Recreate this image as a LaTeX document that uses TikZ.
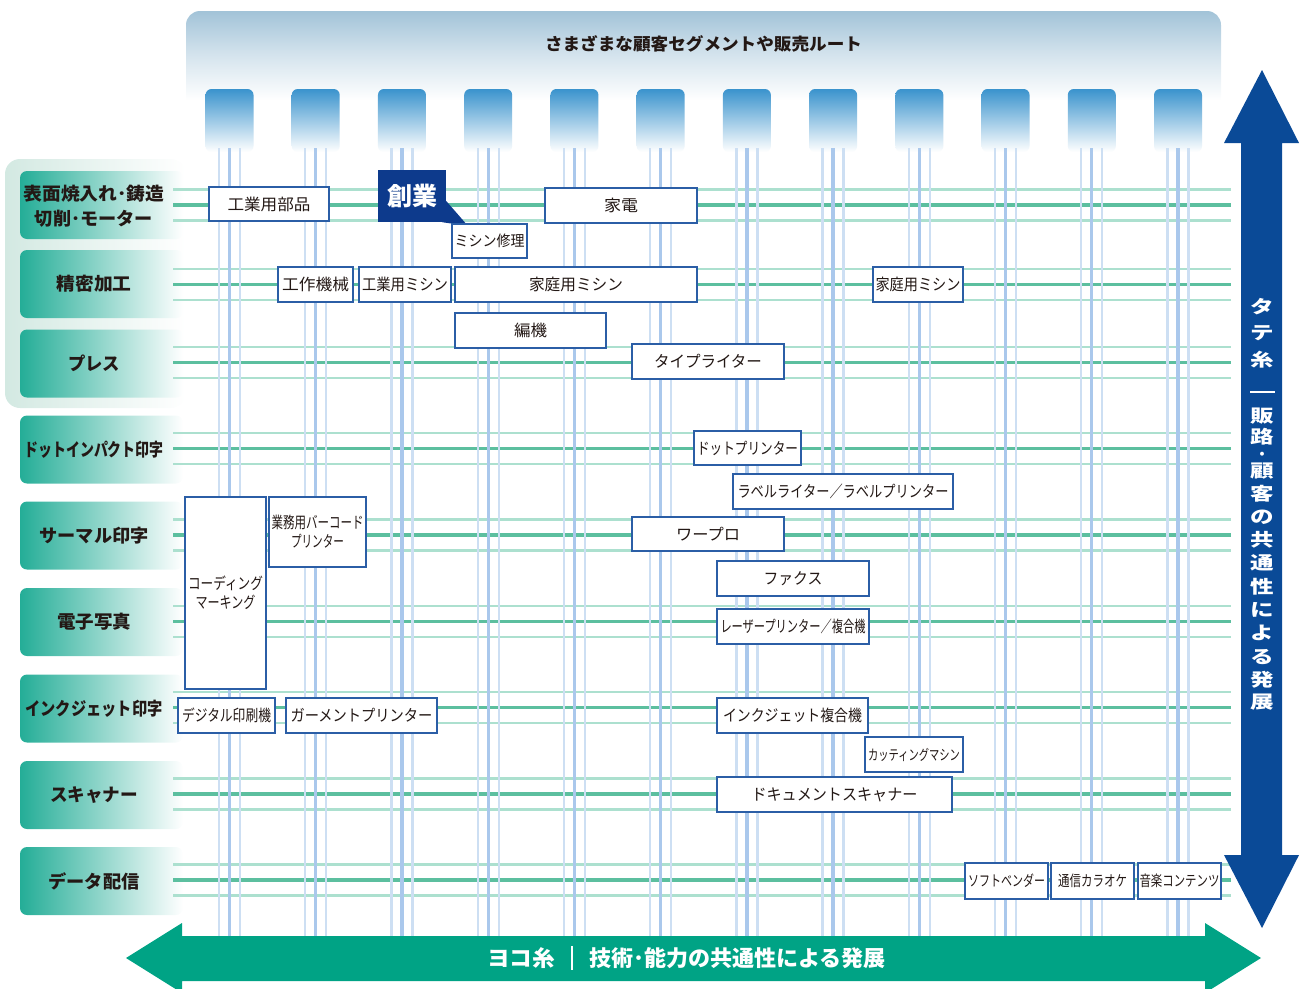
\documentclass[tikz,border=0pt]{standalone}
\usepackage{fontspec}
\setmainfont{Noto Sans CJK JP}
\usepackage{graphicx}
\definecolor{txt}{HTML}{231815}
\definecolor{boxblue}{HTML}{2B5EA6}
\definecolor{sogyoblue}{HTML}{0D3A8C}
\definecolor{arrowblue}{HTML}{0A4A97}
\definecolor{arrowgreen}{HTML}{00A385}
\definecolor{labteal}{HTML}{24AD97}
\definecolor{panelgreen}{HTML}{D3E9E2}
\definecolor{panelblue}{HTML}{A2C3D8}
\definecolor{tabblue}{HTML}{3A93CD}
\definecolor{hthick}{HTML}{5CBF9F}
\definecolor{hthin}{HTML}{ACE0CF}
\definecolor{vthick}{HTML}{AAC8EC}
\definecolor{vthin}{HTML}{CDDFF3}
\pgfdeclareverticalshading{panelshade}{100bp}{color(0bp)=(white); color(25bp)=(white); color(45bp)=(white); color(60bp)=(panelblue!45); color(75bp)=(panelblue); color(100bp)=(panelblue)}
\newlength\fitlen
\newcommand\fitto[2]{\settowidth\fitlen{#2}\pgfmathsetmacro\myfac{#1/\fitlen}\scalebox{\myfac}[1]{#2}}
\newcommand\ibox[6]{\node[ibox, minimum width={#4-#2}, minimum height={#5-#3}] (#1) at ({(#2+#4)/2},{(#3+#5)/2}) {#6};}
\tikzset{
  ibox/.style={draw=boxblue, line width=1.2pt, fill=white, inner sep=0pt, text=txt, align=center, font=\fontsize{16}{19}\selectfont},
  lblbox/.style={rounded corners=7pt, left color=labteal, right color=white, draw=none},
  lbltext/.style={text=txt, align=center, inner sep=0pt, font=\fontsize{18}{25}\selectfont\bfseries},
  tabbox/.style={rounded corners=6pt, top color=tabblue, bottom color=white, draw=none},
  hthickline/.style={draw=hthick, line width=3.3pt},
  hthinline/.style={draw=hthin, line width=2.3pt},
  vthickline/.style={draw=vthick, line width=3.3pt},
  vthinline/.style={draw=vthin, line width=2.3pt},
  vchar/.style={text=white, inner sep=0pt, font=\fontsize{21}{21}\selectfont\bfseries},
}
\begin{document}
\begin{tikzpicture}[x=1pt,y=-1pt]
\useasboundingbox (0,0) rectangle (1303,988);
% top panel
\shade[shading=panelshade, rounded corners=14pt] (186,11) rectangle (1221,160);
\node[text=txt, inner sep=0pt, font=\fontsize{17}{17}\selectfont\bfseries] (title) at (703.5,44) {\fitto{317}{さまざまな顧客セグメントや販売ルート}};
% tabs
\foreach \i in {0,...,11}{
  \pgfmathsetmacro\cx{229.5+86.23*\i}
  \shade[tabbox] ({\cx-24},89) rectangle ({\cx+24},152);
}
% left panel
\shade[rounded corners=15pt, left color=panelgreen, right color=white] (5,159) rectangle (186,408);
% label boxes
\foreach \yc in {205,284,363.5,449.5,535.5,622,708.5,795,881}{
  \shade[lblbox] (20,{\yc-34}) rectangle (183,{\yc+34});
}
\node[lbltext] (l1) at (94,206) {\fitto{141}{表面焼入れ･鋳造}\\\fitto{118}{切削･モーター}};
\node[lbltext] (l2) at (94,284) {\fitto{75}{精密加工}};
\node[lbltext] (l3) at (94,363) {\fitto{52}{プレス}};
\node[lbltext] (l4) at (94,449.5) {\fitto{139}{ドットインパクト印字}};
\node[lbltext] (l5) at (94,536) {\fitto{109}{サーマル印字}};
\node[lbltext] (l6) at (94,622) {\fitto{74}{電子写真}};
\node[lbltext] (l7) at (94,709) {\fitto{137}{インクジェット印字}};
\node[lbltext] (l8) at (94,795) {\fitto{88}{スキャナー}};
\node[lbltext] (l9) at (94,881) {\fitto{91}{データ配信}};
% horizontal lines
\foreach \yc in {205,284.5,362.3,448.5,535,621.5,707.7,794,880}{
  \draw[hthinline] (173,{\yc-15.5}) -- (1231,{\yc-15.5});
  \draw[hthinline] (173,{\yc+15.5}) -- (1231,{\yc+15.5});
  \draw[hthickline] (173,\yc) -- (1231,\yc);
}
% vertical lines
\foreach \i in {0,...,11}{
  \pgfmathsetmacro\cx{229.5+86.23*\i}
  \draw[vthinline] ({\cx-10.5},148) -- ({\cx-10.5},940);
  \draw[vthinline] ({\cx+10.5},148) -- ({\cx+10.5},940);
  \draw[vthickline] (\cx,148) -- (\cx,940);
}
% 創業 callout
\node[fill=sogyoblue, minimum width=68, minimum height=52, inner sep=0pt, text=white, font=\fontsize{25}{25}\selectfont\bfseries] (sogyo) at (412,196) {創業};
\coordinate (tip) at (468,226);
\fill[sogyoblue] ([yshift=-5]sogyo.east) -- (tip) -- ([xshift=-4]sogyo.south east) -- cycle;
% item boxes
\ibox{kogyo}{209}{187}{329}{221}{\fitto{83}{工業用部品}}
\ibox{mishin}{452}{224}{527}{258}{\fontsize{15}{15}\selectfont\fitto{70}{ミシン修理}}
\ibox{kaden}{545}{188}{697}{223}{\fitto{34}{家電}}
\ibox{kosaku}{278}{267}{353}{302}{\fitto{67}{工作機械}}
\ibox{kogyomishin}{359}{267}{451}{302}{\fitto{86}{工業用ミシン}}
\ibox{katei}{455}{267}{697}{302}{\fitto{94}{家庭用ミシン}}
\ibox{kateib}{873}{267}{963}{302}{\fitto{85}{家庭用ミシン}}
\ibox{henki}{455}{313}{606}{348}{\fitto{33}{編機}}
\ibox{typewriter}{632}{344}{784}{379}{\fitto{108}{タイプライター}}
\ibox{dot}{694}{431}{801}{465}{\fitto{101}{ドットプリンター}}
\ibox{labelp}{733}{474}{953}{509}{\fitto{211}{ラベルライター／ラベルプリンター}}
\ibox{wapuro}{632}{517}{784}{551}{\fitto{64}{ワープロ}}
\ibox{fax}{717}{561}{869}{596}{\fitto{59}{ファクス}}
\ibox{laser}{717}{609}{869}{644}{\fitto{145}{レーザープリンター／複合機}}
\ibox{coding}{185}{497}{266}{689}{\fitto{75}{コーディング}\\\fitto{60}{マーキング}}
\ibox{barcode}{269}{497}{366}{567}{\fitto{92}{業務用バーコード}\\\fitto{53}{プリンター}}
\ibox{digital}{178}{698}{275}{733}{\fitto{89}{デジタル印刷機}}
\ibox{garment}{286}{698}{437}{733}{\fitto{142}{ガーメントプリンター}}
\ibox{inkjet}{717}{698}{868}{733}{\fitto{139}{インクジェット複合機}}
\ibox{cutting}{865}{737}{963}{772}{\fontsize{14.5}{15}\selectfont\fitto{92}{カッティングマシン}}
\ibox{docscan}{717}{777}{952}{812}{\fitto{166}{ドキュメントスキャナー}}
\ibox{soft}{965}{863}{1048}{899}{\fontsize{15}{15}\selectfont\fitto{77}{ソフトベンダー}}
\ibox{karaoke}{1051}{863}{1134}{899}{\fontsize{15}{15}\selectfont\fitto{69}{通信カラオケ}}
\ibox{music}{1138}{863}{1221}{899}{\fontsize{15}{15}\selectfont\fitto{80}{音楽コンテンツ}}
% right vertical arrow
\fill[arrowblue] (1262,70) -- (1299,143) -- (1282,143) -- (1282,855) -- (1299,855) -- (1262,928) -- (1224,855) -- (1241,855) -- (1241,143) -- (1224,143) -- cycle;
\foreach \ch/\yy [count=\k] in {タ/307,テ/333,糸/360,販/416,路/437,顧/471,客/494,の/517,共/540,通/563,性/587,に/610,よ/633,る/657,発/680,展/702}{
  \node[vchar] (v\k) at (1262,\yy) {\scalebox{1.12}[0.85]{\ch}};
}
\node[text=white, inner sep=0pt, anchor=base, font=\fontsize{14}{14}\selectfont\bfseries] (vdot) at (1262,459.7) {・};
\coordinate (vbarL) at (1250,392);
\coordinate (vbarR) at (1275,392);
\draw[white, line width=2.6pt] (vbarL) -- (vbarR);
% bottom horizontal arrow
\fill[arrowgreen] (126,958) -- (182,923) -- (182,936) -- (1205,936) -- (1205,923) -- (1261,958) -- (1205,993) -- (1205,981) -- (182,981) -- (182,993) -- cycle;
\node[text=white, inner sep=0pt, font=\fontsize{22}{22}\selectfont\bfseries] (yoko) at (521,958) {\fitto{68}{ヨコ糸}};
\node[text=white, inner sep=0pt, font=\fontsize{22}{22}\selectfont\bfseries] (gijutsu) at (737.5,958) {\fitto{297}{技術･能力の共通性による発展}};
\coordinate (hbarT) at (572,946);
\coordinate (hbarB) at (572,970);
\draw[white, line width=1.6pt] (hbarT) -- (hbarB);
\end{tikzpicture}
\end{document}
